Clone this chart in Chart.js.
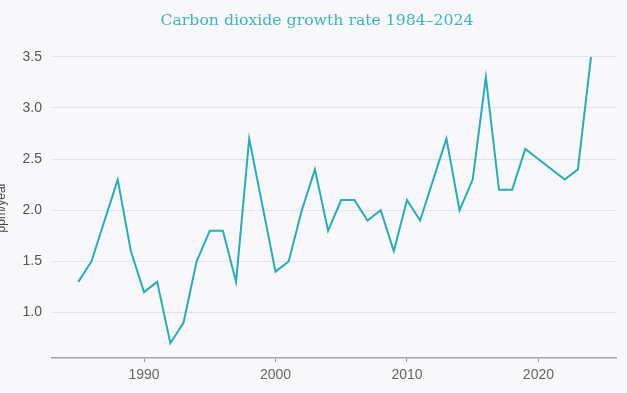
<!DOCTYPE html>
<html>
<head>
<meta charset="utf-8">
<script src="https://cdn.jsdelivr.net/npm/chart.js@4/dist/chart.umd.min.js"></script>
<style>
  html, body { margin: 0; padding: 0; background: #f8f8fa; }
  #wrap { width: 627px; height: 393px; position: relative; }
</style>
</head>
<body>
<div id="wrap"><canvas id="c" width="627" height="393"></canvas></div>
<script>
// Years with visible vertices on the line (straight segments have no intermediate vertex)
const years = [1985, 1986, 1988, 1989, 1990, 1991, 1992, 1993, 1994, 1995, 1996, 1997, 1998, 2000, 2001, 2002, 2003, 2004, 2005, 2006, 2007, 2008, 2009, 2010, 2011, 2013, 2014, 2015, 2016, 2017, 2018, 2019, 2022, 2023, 2024];
const growthRate = [1.3, 1.5, 2.3, 1.6, 1.2, 1.3, 0.7, 0.9, 1.5, 1.8, 1.8, 1.3, 2.7, 1.4, 1.5, 2.0, 2.4, 1.8, 2.1, 2.1, 1.9, 2.0, 1.6, 2.1, 1.9, 2.7, 2.0, 2.3, 3.3, 2.2, 2.2, 2.6, 2.3, 2.4, 3.5];
const xTicks = [1990, 2000, 2010, 2020];
const yTicks = [1.0, 1.5, 2.0, 2.5, 3.0, 3.5];
const titleText = 'Carbon dioxide growth rate 1984\u20132024';
const yTitle = 'ppm/year';

const points = years.map((y, i) => ({ x: y, y: growthRate[i] }));

new Chart(document.getElementById('c'), {
  type: 'line',
  data: {
    datasets: [{
      data: points,
      borderColor: '#25adbf',
      borderWidth: 2,
      pointRadius: 0,
      tension: 0,
      fill: false
    }]
  },
  options: {
    responsive: false,
    animation: false,
    layout: { padding: { left: 7, right: 0, top: 0, bottom: 0 } },
    plugins: {
      legend: { display: false },
      tooltip: { enabled: false },
      title: {
        display: true,
        text: titleText,
        color: '#3bb4c4',
        font: { family: 'DejaVu Serif', size: 15.7, weight: 'normal' },
        padding: { top: 12, bottom: 26 }
      }
    },
    scales: {
      x: {
        type: 'linear',
        min: 1983,
        max: 2025.9,
        afterBuildTicks: (s) => { s.ticks = xTicks.map(v => ({ value: v })); },
        afterFit: (s) => { s.height = 35; },
        ticks: {
          color: '#666',
          font: { family: 'Liberation Sans', size: 14 },
          padding: 5,
          maxRotation: 0,
          callback: (v) => String(v)
        },
        grid: { drawOnChartArea: false, drawTicks: true, tickLength: 4, tickColor: '#999', tickWidth: 1 },
        border: { display: true, color: '#a4a4a8', width: 1.5 }
      },
      y: {
        min: 0.556,
        max: 3.5,
        afterBuildTicks: (s) => { s.ticks = yTicks.map(v => ({ value: v })); },
        afterFit: (s) => { s.width = 45; },
        ticks: {
          color: '#555',
          font: { family: 'Liberation Sans', size: 14 },
          padding: 10,
          callback: (v) => v.toFixed(1)
        },
        grid: { color: '#e2e2e6', lineWidth: 1, drawTicks: false },
        border: { display: false },
        title: {
          display: true,
          text: yTitle,
          color: '#444',
          font: { family: 'Liberation Sans', size: 12 },
          padding: { top: -13, bottom: 0 }
        }
      },
      yRight: {
        position: 'right',
        min: 0,
        max: 1,
        afterFit: (s) => { s.width = 11; },
        ticks: { display: false },
        grid: { drawOnChartArea: false, drawTicks: false },
        border: { display: false }
      }
    }
  }
});
</script>
</body>
</html>
